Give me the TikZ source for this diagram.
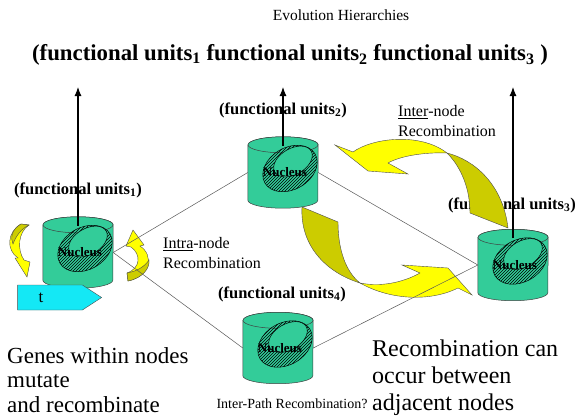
\documentclass[tikz,border=0pt]{standalone}
\usepackage{fontspec}
\setmainfont{Liberation Serif}
\usetikzlibrary{shapes.symbols,patterns,calc,arrows.meta}

\definecolor{cylgreen}{RGB}{51,204,153}
\definecolor{arrowyellow}{RGB}{255,255,0}
\definecolor{arrowolive}{RGB}{204,204,0}
\definecolor{clockcyan}{RGB}{20,232,245}

\begin{document}
\begin{tikzpicture}[x=1pt,y=-1pt,
  hier/.style={rectangle,minimum width=70pt,minimum height=71pt,inner sep=0pt},
  cylline/.style={draw=black!75,line width=0.5pt},
  nuc/.style={font=\fontsize{13}{13}\selectfont\bfseries,inner sep=0pt},
  unitlbl/.style={font=\fontsize{16.5}{16.5}\selectfont\bfseries,inner sep=0pt},
  note/.style={font=\fontsize{16}{20}\selectfont,align=left,anchor=north west,inner sep=0pt},
  big/.style={align=left,anchor=north west,inner sep=0pt},
  link/.style={draw=black!65,line width=0.5pt},
  up/.style={-{Latex[length=9pt,width=7pt]},line width=1.1pt},
  yel/.style={fill=arrowyellow,draw=black!70,line width=0.4pt},
  oli/.style={fill=arrowolive,draw=black!70,line width=0.4pt}]
\fill[white] (0,0) rectangle (576,416);
\useasboundingbox (0,0) rectangle (576,416);

% textos
\node[font=\fontsize{15.5}{16}\selectfont] (title) at (341,15) {Evolution Hierarchies};
\node[font=\fontsize{22.8}{24}\selectfont\bfseries] (units) at (290,55)
  {(functional units\textsubscript{1} functional units\textsubscript{2} functional units\textsubscript{3} )};
\node[unitlbl] (l1) at (78,190) {(functional units\textsubscript{1})};
\node[unitlbl] (l2) at (283,110) {(functional units\textsubscript{2})};
\node[unitlbl] (l3) at (512,205) {(functional units\textsubscript{3})};
\node[unitlbl] (l4) at (282,294) {(functional units\textsubscript{4})};
\node[note] (intra) at (163,237) {\underline{Intra}-node\\Recombination};
\node[note] (inter) at (398,105) {\underline{Inter}-node\\Recombination};
\node[font=\fontsize{14}{14}\selectfont] (path) at (292,404) {Inter-Path Recombination?};
\node[big,font=\fontsize{23}{24.5}\selectfont] (genes) at (7,347) {Genes within nodes\\mutate\\and recombinate};
\node[big,font=\fontsize{24}{27}\selectfont] (adj) at (372,340) {Recombination can\\occur between\\adjacent nodes};

% flechas curvas grandes
\draw[oli] (447,153) .. controls (475,160) and (503,185) .. (508,228) -- (470,213)
  .. controls (470,190) and (462,168) .. (447,153) -- cycle;
\draw[yel] (335,145) -- (353,152) .. controls (372,138) and (420,132) .. (447,153)
  .. controls (425,152) and (400,156) .. (388,163) -- (408,174) -- (368,171) -- cycle;
\draw[oli] (302,207) -- (338,222) .. controls (338,250) and (346,272) .. (360,283)
  .. controls (325,272) and (300,245) .. (302,207) -- cycle;
\draw[yel] (360,283) .. controls (380,287) and (402,283) .. (420,273) -- (402,265)
  -- (448,268) -- (472,295) -- (458,288) .. controls (430,302) and (390,300) .. (360,283) -- cycle;

% flechas curvas chicas
\draw[yel] (29,225) .. controls (18,232) and (17,250) .. (24,260) -- (30,262) -- (27,277)
  -- (15,258) -- (18,258) .. controls (6,250) and (7,232) .. (21,224) -- cycle;
\draw[oli] (29,225) .. controls (21,229) and (16,236) .. (13,244)
  .. controls (10,238) and (12,229) .. (21,224) -- cycle;
\draw[yel] (133,230) -- (144,245) -- (140,246) .. controls (154,255) and (151,276) .. (128,281)
  -- (127,273) .. controls (141,268) and (141,254) .. (131,247) -- (126,246) -- cycle;
\draw[oli] (128,281) .. controls (143,278) and (150,268) .. (149,260)
  .. controls (145,266) and (138,271) .. (127,273) -- cycle;

% nodos
\node[hier] (c1) at (78,252.5) {};
\node[hier] (c2) at (283,172.5) {};
\node[hier] (c3) at (513,265) {};
\node[hier] (c4) at (278,348) {};
\foreach \c in {c1,c2,c3,c4} {
  \draw[cylline,fill=cylgreen] ($(\c.north west)+(0,8)$) -- ($(\c.south west)+(0,-8)$)
    arc[start angle=180,end angle=360,x radius=35pt,y radius=8pt]
    -- ($(\c.north east)+(0,8)$)
    arc[start angle=0,end angle=180,x radius=35pt,y radius=8pt] -- cycle;
  \draw[cylline,fill=cylgreen] ($(\c.north)+(0,8)$) ellipse [x radius=35pt,y radius=8pt];
}

% enlaces
\draw[link] (c1.east) -- (c2.west);
\draw[link] (c1.east) -- (c4.west);
\draw[link] (c2.east) -- (c3.west);
\draw[link] (c4.east) -- (c3.west);

% nucleos
\foreach \c in {c1,c2,c3,c4} {
  \draw[pattern=north east lines,line width=0.5pt,shift={($(\c.center)+(7,-4)$)},rotate=30]
    (0,0) ellipse [x radius=29pt,y radius=21pt];
  \draw[fill=cylgreen,line width=0.5pt,shift={($(\c.center)+(10,-11)$)},rotate=30]
    (0,0) ellipse [x radius=21pt,y radius=13pt];
  \node[nuc] (\c n) at ($(\c.center)+(2,0)$) {Nucleus};
}

% flechas hacia arriba
\coordinate (t1) at (78,87);
\coordinate (t2) at (283,87);
\coordinate (t3) at (513,87);
\draw[up] ($(c1.center)+(0,-27)$) -- (t1);
\draw[up] ($(c2.center)+(0,-27)$) -- (t2);
\draw[up] ($(c3.center)+(0,-27)$) -- (t3);

% reloj
\node[signal,signal to=east,signal pointer angle=66,draw=black!70,fill=clockcyan,
  minimum width=84pt,minimum height=25pt,inner sep=0pt,
  label={[font=\fontsize{17}{17}\selectfont,xshift=-9pt]center:t}] (tbox) at (50,297.5) {};
\end{tikzpicture}
\end{document}
